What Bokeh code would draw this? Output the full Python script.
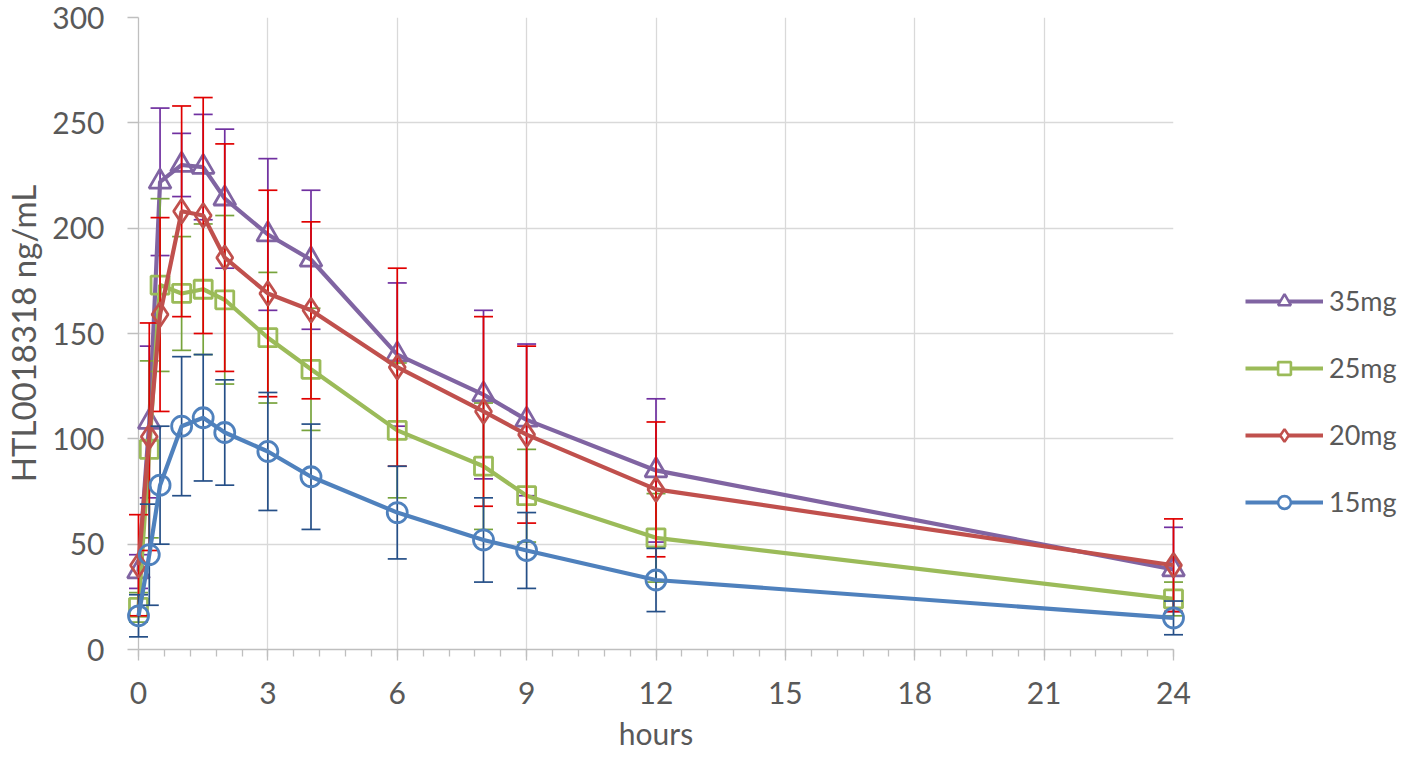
from bokeh.plotting import figure
from bokeh.layouts import row
from bokeh.models import (Range1d, SingleIntervalTicker, Legend, LegendItem, ColumnDataSource)
from bokeh.embed import file_html
from bokeh.resources import INLINE

# ---- data ----
hours = [0, 0.25, 0.5, 1, 1.5, 2, 3, 4, 6, 8, 9, 12, 24]

mg35 = [37, 108, 222, 230, 229, 214, 197, 185, 140, 121, 109, 85, 38]
sd35 = [8, 36, 35, 15, 25, 33, 36, 33, 34, 40, 36, 34, 20]

mg25 = [20, 95, 173, 169, 171, 166, 148, 133, 104, 87, 73, 53, 24]
sd25 = [7, 42, 41, 27, 31, 40, 31, 29, 32, 30, 22, 21, 8]

mg20 = [40, 101, 159, 208, 206, 186, 169, 161, 134, 113, 102, 76, 40]
sd20 = [24, 54, 46, 50, 56, 54, 49, 42, 47, 45, 42, 32, 22]

mg15 = [16, 45, 78, 106, 110, 103, 94, 82, 65, 52, 47, 33, 15]
sd15 = [10, 24, 28, 33, 30, 25, 28, 25, 22, 20, 18, 15, 8]

series_labels = ["35mg", "25mg", "20mg", "15mg"]

FONT = "Lato"
TXT = "#595959"

p = figure(width=1200, height=753, output_backend="svg", toolbar_location=None,
           x_range=Range1d(0, 24), y_range=Range1d(0, 300),
           min_border_left=137, min_border_right=27, min_border_top=17, min_border_bottom=102)
p.outline_line_color = None
p.background_fill_color = "white"

# axes
p.xaxis.ticker = SingleIntervalTicker(interval=3, num_minor_ticks=5)
p.yaxis.ticker = SingleIntervalTicker(interval=50, num_minor_ticks=0)
for ax in (p.xaxis[0], p.yaxis[0]):
    ax.axis_line_color = "#BFBFBF"
    ax.axis_line_width = 1.3
    ax.major_tick_line_color = "#BFBFBF"
    ax.major_tick_line_width = 1.3
    ax.major_tick_out = 11
    ax.major_tick_in = 0
    ax.minor_tick_line_color = "#BFBFBF"
    ax.minor_tick_line_width = 1.3
    ax.minor_tick_out = 7
    ax.minor_tick_in = 0
    ax.major_label_text_font = FONT
    ax.major_label_text_font_size = "30px"
    ax.major_label_text_color = TXT
    ax.axis_label_text_font = FONT
    ax.axis_label_text_color = TXT
    ax.axis_label_text_font_style = "normal"
p.yaxis.minor_tick_line_color = None
p.xaxis.axis_label = "hours"
p.yaxis.axis_label = "HTL0018318 ng/mL"
p.xaxis.axis_label_text_font_size = "30px"
p.yaxis.axis_label_text_font_size = "33px"
p.xaxis.major_label_standoff = 21
p.xaxis.axis_label_standoff = 8
p.yaxis.major_label_standoff = 23
p.yaxis.axis_label_standoff = 6

p.xgrid.grid_line_color = "#D9D9D9"
p.ygrid.grid_line_color = "#D9D9D9"
p.xgrid.grid_line_width = 1.3
p.ygrid.grid_line_width = 1.3

specs = [
    (mg35, sd35, "#8064A2", "#7030A0", "triangle", 22),
    (mg25, sd25, "#9BBB59", "#77A33C", "square", 18),
    (mg20, sd20, "#C0504D", "#E00000", "diamond", 24),
    (mg15, sd15, "#4F81BD", "#254F87", "circle", 20),
]

# key panel (its ranges keep the data itself out of view; only the key is seen)
q = figure(width=200, height=753, output_backend="svg", toolbar_location=None,
           x_range=Range1d(0, 1), y_range=Range1d(0, 1),
           min_border_left=0, min_border_right=0, min_border_top=17, min_border_bottom=102)
q.axis.visible = False
q.grid.visible = False
q.outline_line_color = None

items = []
for (vals, sds, col, ecol, marker, msize), lab in zip(specs, series_labels):
    upper = [v + s for v, s in zip(vals, sds)]
    lower = [v - s for v, s in zip(vals, sds)]
    src = ColumnDataSource(dict(x=hours, y=vals, up=upper, lo=lower))
    p.segment(x0="x", y0="lo", x1="x", y1="up", source=src, line_color=ecol,
              line_width=1.7, level="annotation")
    p.scatter(x="x", y="up", source=src, marker="dash", size=19, line_color=ecol,
              line_width=1.7, level="annotation")
    p.scatter(x="x", y="lo", source=src, marker="dash", size=19, line_color=ecol,
              line_width=1.7, level="annotation")
    p.line(x="x", y="y", source=src, line_color=col, line_width=4.2, level="annotation")
    p.scatter(x="x", y="y", source=src, marker=marker, size=msize, fill_color=None,
              line_color=col, line_width=2.8, level="annotation")
    klr = q.line(x="x", y="y", source=src, line_color=col, line_width=4.2)
    ksr = q.scatter(x="x", y="y", source=src, marker=marker, size=round(msize * 0.8),
                    fill_color="white", line_color=col, line_width=2.6)
    items.append(LegendItem(label=lab, renderers=[klr, ksr]))

legend = Legend(items=items, location=(45, 131), orientation="vertical",
                glyph_width=78, glyph_height=32, spacing=34, padding=0, margin=0,
                label_standoff=6, label_text_font=FONT, label_text_font_size="27px",
                label_text_color=TXT, border_line_color=None, background_fill_alpha=0)
q.add_layout(legend, "center")

layout = row(p, q, spacing=0)
open("out.html", "w").write(file_html(layout, INLINE))
